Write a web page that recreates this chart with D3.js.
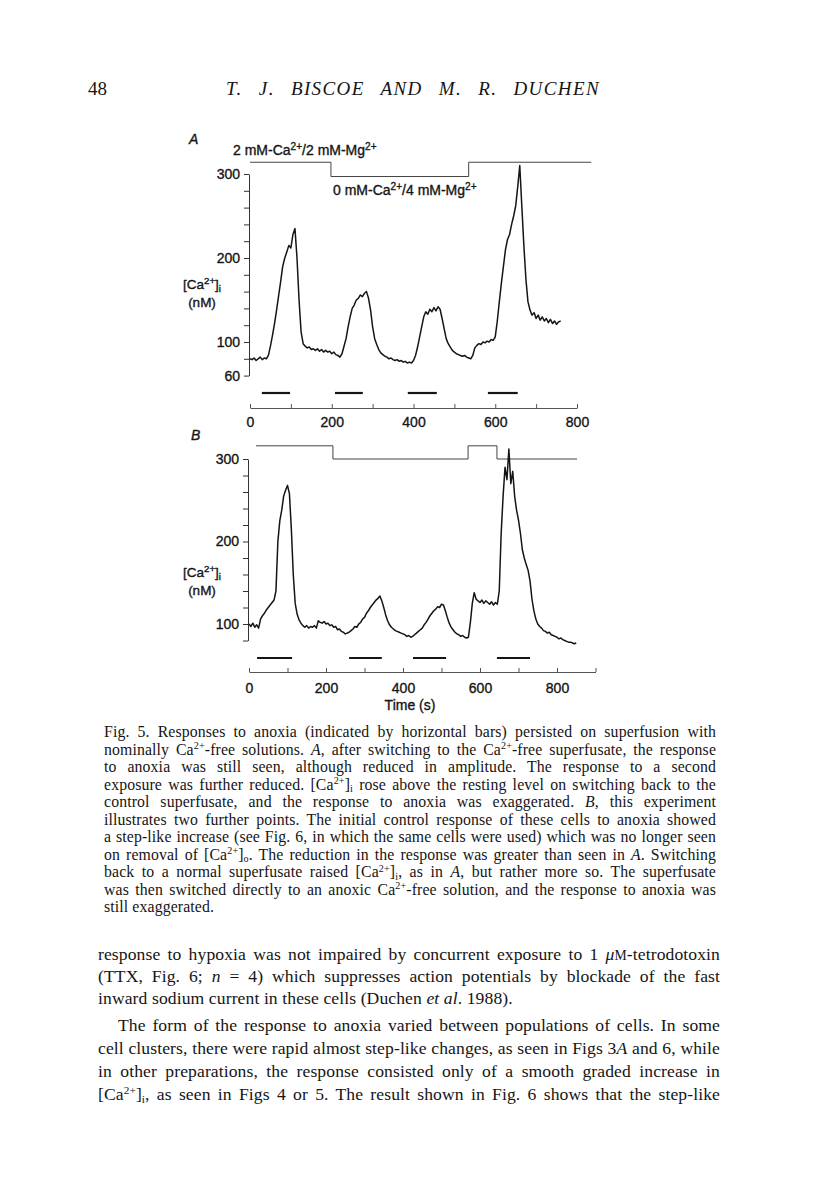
<!DOCTYPE html>
<html>
<head>
<meta charset="utf-8">
<script src="https://cdn.jsdelivr.net/npm/d3@7"></script>
<style>
  body { margin: 0; background: #fff; }
  svg { display: block; }
</style>
</head>
<body>
<svg id="page" width="816" height="1183"></svg>
<script>
// ---- data ----
// traces sampled every 5 s
const traceAStep = 5;
const traceAValues = [
  80, 79, 81, 78, 80, 82, 79, 81, 80, 84, 95, 108, 122, 138, 155, 172, 190, 200, 207, 215,
  212, 228, 235, 200, 150, 112, 98, 95, 93, 94, 91, 92, 90, 92, 89, 91, 88, 90, 88, 89,
  86, 88, 85, 84, 82, 86, 95, 104, 118, 130, 140, 144, 150, 152, 156, 154, 158, 160, 152, 138,
  118, 104, 97, 91, 87, 85, 83, 82, 80, 81, 79, 78, 79, 77, 78, 76, 77, 75, 76, 75,
  78, 84, 94, 106, 118, 130, 136, 133, 139, 136, 141, 137, 142, 139, 128, 116, 104, 98, 94, 90,
  88, 86, 85, 84, 83, 84, 82, 81, 80, 84, 93, 96, 98, 97, 100, 99, 101, 100, 103, 102,
  106, 125, 148, 170, 190, 210, 222, 228, 240, 250, 262, 285, 310, 262, 215, 175, 148, 138, 132, 135,
  128, 132, 126, 130, 125, 128, 123, 127, 122, 125, 121, 124, 125
];
const traceBStep = 5;
const traceBValues = [
  100, 97, 101, 96, 99, 95, 106, 110, 113, 117, 120, 123, 126, 129, 140, 200, 225, 238, 255, 262,
  268, 258, 215, 160, 125, 112, 105, 101, 98, 96, 98, 95, 97, 96, 98, 95, 104, 102, 101, 103,
  100, 101, 98, 99, 96, 97, 93, 94, 91, 90, 88, 89, 90, 92, 94, 97, 96, 100, 102, 106,
  108, 113, 116, 120, 123, 126, 129, 131, 134, 128, 120, 111, 104, 99, 96, 94, 92, 91, 90, 89,
  88, 87, 85, 86, 84, 85, 87, 89, 91, 93, 95, 99, 102, 106, 110, 113, 116, 118, 121, 120,
  124, 123, 116, 108, 101, 96, 93, 90, 88, 87, 85, 86, 84, 83, 84, 102, 125, 138, 130, 128,
  126, 129, 125, 128, 126, 124, 127, 123, 126, 124, 140, 210, 255, 290, 275, 312, 270, 285, 255, 238,
  226, 210, 190, 180, 172, 165, 152, 130, 116, 106, 100, 97, 95, 92, 91, 89, 90, 87, 86, 85,
  84, 82, 83, 81, 80, 79, 78, 78, 77, 76, 77
];

// anoxia bars (start, end in s)
const barsA = [[29, 98], [208, 276], [386, 457], [582, 655]];
const barsB = [[21, 112], [260, 345], [426, 512], [644, 730]];

// superfusate (solution) step line: switch times and levels
const solATimes = [0, 198, 535, 835];
const solALevels = [314, 297, 314, 314];
const solBTimes = [18, 218, 569, 644, 852];
const solBLevels = [316, 300, 316, 300, 300];

// ticks
const yTicksA = d3.range(60, 301, 20);
const yLabelsA = [60, 100, 200, 300];
const yTicksB = d3.range(80, 301, 20);
const yLabelsB = [100, 200, 300];
const xTicksA = d3.range(0, 801, 100);
const xTicksB = d3.range(0, 901, 100);
const xLabels = [0, 200, 400, 600, 800];

// text of the page
const headerNumber = "48";
const headerTitle = "T. J. BISCOE AND M. R. DUCHEN";
const captionLines = [
  "Fig. 5. Responses to anoxia (indicated by horizontal bars) persisted on superfusion with",
  "nominally Ca^{2+}-free solutions. *A*, after switching to the Ca^{2+}-free superfusate, the response",
  "to anoxia was still seen, although reduced in amplitude. The response to a second",
  "exposure was further reduced. [Ca^{2+}]_{i} rose above the resting level on switching back to the",
  "control superfusate, and the response to anoxia was exaggerated. *B*, this experiment",
  "illustrates two further points. The initial control response of these cells to anoxia showed",
  "a step-like increase (see Fig. 6, in which the same cells were used) which was no longer seen",
  "on removal of [Ca^{2+}]_{o}. The reduction in the response was greater than seen in *A*. Switching",
  "back to a normal superfusate raised [Ca^{2+}]_{i}, as in *A*, but rather more so. The superfusate",
  "was then switched directly to an anoxic Ca^{2+}-free solution, and the response to anoxia was",
  "still exaggerated."
];
const bodyLines = [
  "response to hypoxia was not impaired by concurrent exposure to 1 *μ*#{M}-tetrodotoxin",
  "(TTX, Fig. 6; *n* = 4) which suppresses action potentials by blockade of the fast",
  "inward sodium current in these cells (Duchen *et al*. 1988).",
  "The form of the response to anoxia varied between populations of cells. In some",
  "cell clusters, there were rapid almost step-like changes, as seen in Figs 3*A* and 6, while",
  "in other preparations, the response consisted only of a smooth graded increase in",
  "[Ca^{2+}]_{i}, as seen in Figs 4 or 5. The result shown in Fig. 6 shows that the step-like"
];

// ---- drawing ----
const sans = "'Liberation Sans', Arial, Helvetica, sans-serif";
const serif = "'Liberation Serif', 'Times New Roman', serif";
const ink = "#151515";

const svg = d3.select("#page");

// writes a string with ^{sup}, _{sub}, *italic*, #{smallcap} markup into a text element
function richText(textSel, str, size, supRaise = 0.38, subDrop = 0.22, scriptSize = 0.72) {
  const parts = str.split(/(\^\{[^}]*\}|_\{[^}]*\}|\*[^*]*\*|#\{[^}]*\})/).filter(s => s.length);
  let shift = 0;
  parts.forEach(p => {
    const t = textSel.append("tspan");
    let target = 0;
    if (p.startsWith("^{")) {
      target = -size * supRaise;
      t.attr("font-size", size * scriptSize).text(p.slice(2, -1));
    } else if (p.startsWith("_{")) {
      target = size * subDrop;
      t.attr("font-size", size * scriptSize).text(p.slice(2, -1));
    } else if (p.startsWith("#{")) {
      t.attr("font-size", size * 0.78).text(p.slice(2, -1));
    } else if (p.startsWith("*")) {
      t.attr("font-style", "italic").text(p.slice(1, -1));
    } else {
      t.text(p);
    }
    if (target !== shift) t.attr("dy", target - shift);
    shift = target;
  });
}

function justifiedLine(x, y, width, str, size, spacing, justify) {
  const t = svg.append("text")
    .attr("x", x).attr("y", y)
    .attr("font-family", serif)
    .attr("font-size", size)
    .attr("letter-spacing", spacing)
    .attr("fill", ink);
  richText(t, str, size, 0.32, 0.16, 0.64);
  if (justify) {
    const natural = t.node().getComputedTextLength();
    const spaces = (str.match(/ /g) || []).length;
    if (spaces > 0) t.style("word-spacing", ((width - natural) / spaces) + "px");
  }
  return t;
}

// sans labels in the figure look heavier in the scan
function sansText(sel, size) {
  return sel.attr("font-family", sans).attr("font-size", size)
    .attr("fill", ink).attr("stroke", ink).attr("stroke-width", 0.35);
}

function drawPanel(cfg) {
  const g = svg.append("g");
  const x = cfg.x, y = cfg.y;

  // y axis
  const yAxis = g.append("g")
    .attr("transform", `translate(${x.range()[0] - 1},0)`)
    .call(d3.axisLeft(y)
      .tickValues(cfg.yTicks)
      .tickFormat(d => cfg.yLabels.includes(d) ? d : "")
      .tickSizeInner(5).tickSizeOuter(0).tickPadding(4));
  yAxis.attr("font-family", sans).attr("font-size", 14);
  yAxis.selectAll("path, line").attr("stroke", "#333");
  yAxis.selectAll("text").attr("fill", ink).attr("stroke", ink).attr("stroke-width", 0.35);

  // x axis (ticks pointing up, labels below)
  const xAxis = g.append("g")
    .attr("transform", `translate(0,${cfg.xAxisY})`)
    .call(d3.axisBottom(x)
      .tickValues(cfg.xTicks)
      .tickFormat(d => xLabels.includes(d) ? d : "")
      .tickSizeInner(-4).tickSizeOuter(0).tickPadding(cfg.xPad));
  xAxis.attr("font-family", sans).attr("font-size", 14);
  xAxis.selectAll("path, line").attr("stroke", "#555");
  xAxis.selectAll("text").attr("fill", ink).attr("stroke", ink).attr("stroke-width", 0.35);

  // superfusate step line
  const sol = cfg.solTimes.map((t, i) => [t, cfg.solLevels[i]]);
  g.append("path")
    .datum(sol)
    .attr("fill", "none")
    .attr("stroke", "#444")
    .attr("stroke-width", 1)
    .attr("d", d3.line().curve(d3.curveStepAfter).x(d => x(d[0])).y(d => y(d[1])));

  // trace
  const trace = cfg.values.map((v, i) => [i * cfg.step, v]);
  g.append("path")
    .datum(trace)
    .attr("fill", "none")
    .attr("stroke", ink)
    .attr("stroke-width", 1.5)
    .attr("stroke-linejoin", "round")
    .attr("d", d3.line().x(d => x(d[0])).y(d => y(d[1])));

  // anoxia bars
  g.selectAll(".bar")
    .data(cfg.bars)
    .enter()
    .append("line")
    .attr("x1", d => x(d[0]))
    .attr("x2", d => x(d[1]))
    .attr("y1", cfg.barY)
    .attr("y2", cfg.barY)
    .attr("stroke", ink)
    .attr("stroke-width", 2.2);

  // panel letter
  sansText(g.append("text"), 14)
    .attr("x", cfg.letterPos[0]).attr("y", cfg.letterPos[1])
    .attr("font-style", "italic")
    .text(cfg.letter);

  // y label
  const yl = sansText(g.append("text"), 13.5)
    .attr("x", 202).attr("y", cfg.yLabelY)
    .attr("text-anchor", "middle");
  richText(yl, "[Ca^{2+}]_{i}", 13.5);
  sansText(g.append("text"), 13.5)
    .attr("x", 202).attr("y", cfg.yLabelY + 18)
    .attr("text-anchor", "middle")
    .text("(nM)");
}

// Panel A
drawPanel({
  letter: "A", letterPos: [189, 144],
  x: d3.scaleLinear().domain([0, 800]).range([250, 577]),
  y: d3.scaleLinear().domain([60, 300]).range([375.6, 174]),
  yTicks: yTicksA, yLabels: yLabelsA, xTicks: xTicksA,
  xAxisY: 408, xPad: 9,
  values: traceAValues, step: traceAStep,
  bars: barsA, barY: 393,
  solTimes: solATimes, solLevels: solALevels,
  yLabelY: 289
});

// Panel B
drawPanel({
  letter: "B", letterPos: [191, 440],
  x: d3.scaleLinear().domain([0, 900]).range([249, 595.5]),
  y: d3.scaleLinear().domain([80, 300]).range([640.5, 459]),
  yTicks: yTicksB, yLabels: yLabelsB, xTicks: xTicksB,
  xAxisY: 672, xPad: 11,
  values: traceBValues, step: traceBStep,
  bars: barsB, barY: 658,
  solTimes: solBTimes, solLevels: solBLevels,
  yLabelY: 577
});

// solution labels (panel A)
const s1 = sansText(svg.append("text"), 14).attr("x", 233).attr("y", 155);
richText(s1, "2 mM-Ca^{2+}/2 mM-Mg^{2+}", 14);
const s2 = sansText(svg.append("text"), 14).attr("x", 333).attr("y", 195);
richText(s2, "0 mM-Ca^{2+}/4 mM-Mg^{2+}", 14);

// x axis title (panel B)
sansText(svg.append("text"), 14)
  .attr("x", 410).attr("y", 710)
  .attr("text-anchor", "middle")
  .text("Time (s)");

// running header
svg.append("text")
  .attr("x", 88).attr("y", 95)
  .attr("font-family", serif).attr("font-size", 19).attr("fill", ink)
  .text(headerNumber);
const title = svg.append("text")
  .attr("x", 226).attr("y", 95)
  .attr("font-family", serif).attr("font-size", 19).attr("font-style", "italic")
  .attr("letter-spacing", 1.4)
  .attr("fill", ink)
  .text(headerTitle);
{
  const natural = title.node().getComputedTextLength();
  const spaces = (headerTitle.match(/ /g) || []).length;
  title.style("word-spacing", Math.max(0, (374 - natural) / spaces) + "px");
}

// caption
captionLines.forEach((line, i) => {
  justifiedLine(104, 737 + i * 17.5, 612, line, 15.8, 0.12, i < captionLines.length - 1);
});

// body text
const bodyY = [960, 982, 1004, 1031, 1054, 1077, 1100];
bodyLines.forEach((line, i) => {
  const indent = i === 3 ? 20 : 0;
  justifiedLine(98 + indent, bodyY[i], 622 - indent, line, 17.6, 0.1, i !== 2);
});
</script>
</body>
</html>
